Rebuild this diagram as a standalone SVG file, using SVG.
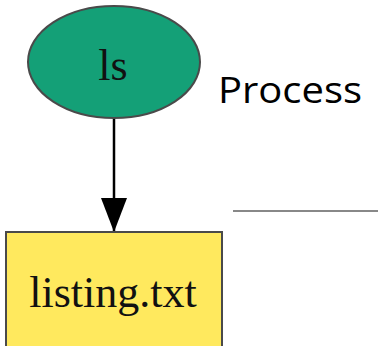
<svg xmlns="http://www.w3.org/2000/svg" width="378" height="346" viewBox="0 0 378 346">
  <style>
    .node { stroke: #4a4a4a; stroke-width: 2; }
    .serif { font-family: "Liberation Serif", "Times New Roman", serif; font-size: 44px; fill: #111; text-anchor: middle; }
    .edge { stroke: #000; stroke-width: 2.5; fill: none; }
  </style>
  <defs>
    <marker id="arrow" markerWidth="34" markerHeight="26" refX="34" refY="13" orient="auto" markerUnits="userSpaceOnUse" viewBox="0 0 34 26">
      <path d="M0,0 L34,13 L0,26 Z" fill="#000"/>
    </marker>
  </defs>
  <rect width="378" height="346" fill="#fff"/>
  <g id="connectors">
    <line class="edge" x1="114" y1="118" x2="114" y2="232" marker-end="url(#arrow)"/>
  </g>
  <g id="node-ls">
    <ellipse class="node" cx="114" cy="62" rx="86" ry="56" fill="#14a077"/>
    <text class="serif" x="113" y="80">ls</text>
  </g>
  <g id="node-listing">
    <rect class="node" x="6" y="232" width="216" height="120" fill="#ffe95e"/>
    <text class="serif" x="113" y="307">listing.txt</text>
  </g>
  <g id="legend">
    <text x="218" y="103" font-family="'Open Sans', 'Liberation Sans', sans-serif" font-size="36" fill="#000" textLength="144" lengthAdjust="spacingAndGlyphs">Process</text>
    <line x1="233" y1="211" x2="378" y2="211" stroke="#888" stroke-width="2"/>
  </g>
</svg>
